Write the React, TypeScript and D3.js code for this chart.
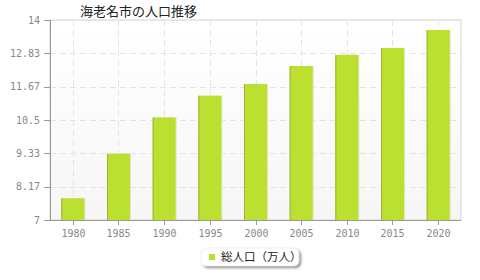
import React from "react";
import * as d3 from "d3";

const title = "海老名市の人口推移";
const years = ["1980", "1985", "1990", "1995", "2000", "2005", "2010", "2015", "2020"];
const population = [7.76, 9.32, 10.59, 11.35, 11.76, 12.39, 12.78, 13.02, 13.65];
const yTicks = [7, 8.17, 9.33, 10.5, 11.67, 12.83, 14];
const seriesName = "総人口（万人）";

const W = 480, H = 280;
const M = { left: 50, right: 461, top: 20, bottom: 220 };

export default function App() {
  const xc = d3.scaleBand().domain(years).range([M.left, M.right]);
  const y = d3.scaleLinear().domain([7, 14]).range([M.bottom, M.top]);
  const font = "'DejaVu Sans Mono', monospace";
  return (
    <svg width={W} height={H} style={{ position: "absolute", left: 0, top: 0 }}>
      <defs>
        <linearGradient id="bg" x1="0" y1="0" x2="0" y2="1">
          <stop offset="0" stopColor="#ffffff" />
          <stop offset="1" stopColor="#f6f6f6" />
        </linearGradient>
        <filter id="sh" x="-20%" y="-20%" width="150%" height="160%">
          <feDropShadow dx="2" dy="2" stdDeviation="1" floodColor="#556" floodOpacity="0.6" />
        </filter>
      </defs>
      <rect x={M.left} y={M.top} width={M.right - M.left} height={M.bottom - M.top} fill="url(#bg)" stroke="#e2e2e2" strokeWidth={1.5} />
      {yTicks.map((t) => (
        <line key={"h" + t} x1={M.left} x2={M.right} y1={Math.round(y(t)) + 0.5} y2={Math.round(y(t)) + 0.5} stroke="#e4e4e4" strokeDasharray="6,4" />
      ))}
      {years.map((c) => (
        <line key={"v" + c} x1={Math.round(xc(c)! + xc.bandwidth() / 2) + 0.5} x2={Math.round(xc(c)! + xc.bandwidth() / 2) + 0.5} y1={M.top} y2={M.bottom} stroke="#e4e4e4" strokeDasharray="6,4" />
      ))}
      {years.map((c, i) => {
        const bx = xc(c)! + xc.bandwidth() / 2 - 11.5;
        const by = y(population[i]);
        return (
          <g key={"b" + c}>
            <rect x={bx + 1} y={by} width={23} height={M.bottom - by} fill="#dfe6c8" />
            <rect x={bx} y={by} width={23} height={M.bottom - by} fill="#bce030" />
            <rect x={bx} y={by} width={1} height={M.bottom - by} fill="#9fb040" />
          </g>
        );
      })}
      <line x1={M.left + 0.5} x2={M.left + 0.5} y1={M.top} y2={M.bottom} stroke="#999" />
      <line x1={M.left} x2={M.right} y1={M.bottom + 0.5} y2={M.bottom + 0.5} stroke="#999" />
      {yTicks.map((t) => (
        <g key={"yt" + t}>
          <line x1={44} x2={M.left} y1={Math.round(y(t)) + 0.5} y2={Math.round(y(t)) + 0.5} stroke="#999" />
          <text x={40} y={y(t) + 3.5} textAnchor="end" fontSize={10} fill="#888" fontFamily={font}>{t}</text>
        </g>
      ))}
      {years.map((c) => {
        const cx = Math.round(xc(c)! + xc.bandwidth() / 2) + 0.5;
        return (
          <g key={"xt" + c}>
            <line x1={cx} x2={cx} y1={M.bottom} y2={M.bottom + 5} stroke="#999" />
            <text x={cx} y={237} textAnchor="middle" fontSize={10} fill="#888" fontFamily={font}>{c}</text>
          </g>
        );
      })}
      <text x={80} y={16} fontSize={13} fill="#222" fontFamily="'Noto Sans CJK JP', sans-serif">{title}</text>
      <rect x={201} y={248} width={98} height={18} rx={5} fill="#fff" stroke="#ddd" strokeWidth={0.5} filter="url(#sh)" />
      <rect x={209} y={254} width={6} height={6} fill="#bce030" />
      <text x={221} y={261} fontSize={11.5} fill="#222" fontFamily="'Noto Sans CJK JP', sans-serif">{seriesName}</text>
    </svg>
  );
}
